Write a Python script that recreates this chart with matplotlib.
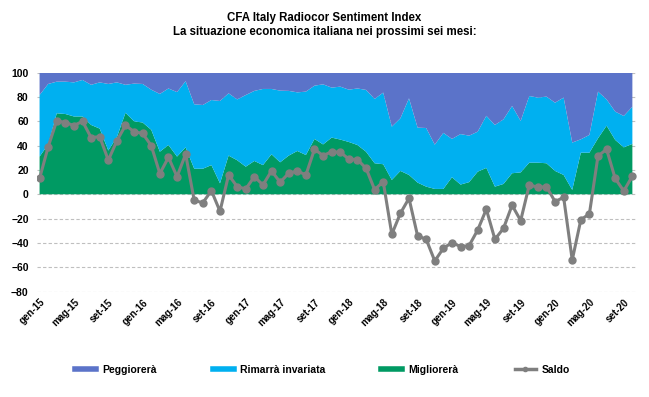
import matplotlib
matplotlib.use("Agg")
import matplotlib.pyplot as plt
import numpy as np

# monthly, gen-15 .. ott-20
migliorera = [31, 41, 66.6, 66, 64, 64, 57, 54, 36, 47, 67, 60, 59, 53, 35, 40.5,
              31, 38.6, 21, 21, 24, 9, 31.8, 28, 22.7, 27.4, 24, 32.9, 26.3, 31.8,
              35.6, 32.3, 45.5, 41, 46.6, 45, 43, 40.5, 35, 25.5, 24.7, 11.8, 19.2,
              15.9, 9.6, 6.3, 4.4, 4.4, 14, 8, 10, 18.6, 21.7, 6.3, 8.5, 17.3, 18,
              26, 26, 25.5, 19.2, 15.9, 3.6, 34.2, 34.2, 46, 56.4, 44.7, 38.6, 41.4]
peggiorera = [18.4, 9.3, 7.4, 7.4, 8, 6, 10, 8, 9.3, 8, 10, 9, 9.3, 14, 17.5, 13,
              16, 7, 26, 26.6, 22.5, 23.3, 17, 22, 18.4, 15, 13.4, 13.4, 14.8, 15,
              16.2, 15.6, 10.7, 9.6, 12.3, 11.5, 14, 13, 14.2, 21.6, 16.4, 44.4, 37.5,
              21.1, 45.2, 45.5, 59.2, 49.5, 54.5, 50.5, 51.8, 48.5, 35.5, 43, 38.4,
              27.4, 39.7, 19.2, 20.5, 19.7, 24.7, 20.5, 57.5, 54.8, 51.2, 15.6, 22,
              32, 35.6, 28]
saldo = [13, 39, 60.5, 59, 56.5, 60, 46.6, 47.4, 28, 44, 56.7, 51.5, 50, 40, 17, 30.4,
         14.5, 33, -5, -7, 3, -14, 15.9, 6.3, 4.4, 14.5, 7.7, 19.2, 9.9, 17.3,
         19.2, 15.9, 37, 31.8, 35, 34.5, 29, 28.5, 21.4, 3.8, 10.4, -32.9, -15.6,
         -3.3, -34.2, -37, -54.8, -44.4, -39.7, -43, -42.2, -29.3, -12.3, -37, -28,
         -9, -21.6, 7.7, 5.8, 6.3, -6, -2.5, -54, -21, -16, 31.5, 37, 13, 2.7, 15]
tick_labels = ["gen-15", "mag-15", "set-15", "gen-16", "mag-16", "set-16",
               "gen-17", "mag-17", "set-17", "gen-18", "mag-18", "set-18",
               "gen-19", "mag-19", "set-19", "gen-20", "mag-20", "set-20"]

rimarra = [100 - m - p for m, p in zip(migliorera, peggiorera)]
x = np.arange(len(saldo))

plt.rcParams["font.family"] = ["Liberation Sans", "DejaVu Sans"]
plt.rcParams["font.weight"] = "bold"

fig = plt.figure(figsize=(6.49, 3.97), dpi=100)
ax = fig.add_axes([0.057, 0.2655, 0.924, 0.5515])

ax.stackplot(x, migliorera, rimarra, peggiorera,
             colors=["#009a63", "#00b0f0", "#5b73c9"], zorder=2)
ax.plot(x, saldo, "-o", color="#7f7f7f", lw=2.2, markersize=5, zorder=3)

ax.set_ylim(-80, 100)
ax.set_yticks(range(-80, 101, 20))
ax.set_xlim(-0.3, 69.5)
ax.set_xticks(x[::4])
ax.set_xticklabels(tick_labels, rotation=45, ha="right", rotation_mode="anchor")
ax.tick_params(axis="x", length=0, labelsize=7, pad=4)
ax.tick_params(axis="y", length=0, labelsize=7.5, pad=6)
ax.grid(axis="y", color="#bfbfbf", linestyle=(0, (3, 2)), lw=0.8, zorder=0)
for side in ["top", "right", "bottom", "left"]:
    ax.spines[side].set_visible(False)

fig.text(0.5, 0.955, "CFA Italy Radiocor Sentiment Index", ha="center",
         va="center", fontsize=8.3, fontweight="bold")
fig.text(0.5, 0.92, "La situazione economica italiana nei prossimi sei mesi:",
         ha="center", va="center", fontsize=8.3, fontweight="bold")

handles = [
    plt.Line2D([], [], color="#5b73c9", lw=4),
    plt.Line2D([], [], color="#00b0f0", lw=4),
    plt.Line2D([], [], color="#009a63", lw=4),
    plt.Line2D([], [], color="#7f7f7f", lw=2.5, marker="o", markersize=3),
]
fig.legend(handles, ["Peggiorerà", "Rimarrà invariata", "Migliorerà", "Saldo"],
           loc="center", bbox_to_anchor=(0.497, 0.068), ncol=4, frameon=False,
           fontsize=7.5, handlelength=2.0, columnspacing=5.4, handletextpad=0.6)

fig.savefig("out.png", dpi=100)
